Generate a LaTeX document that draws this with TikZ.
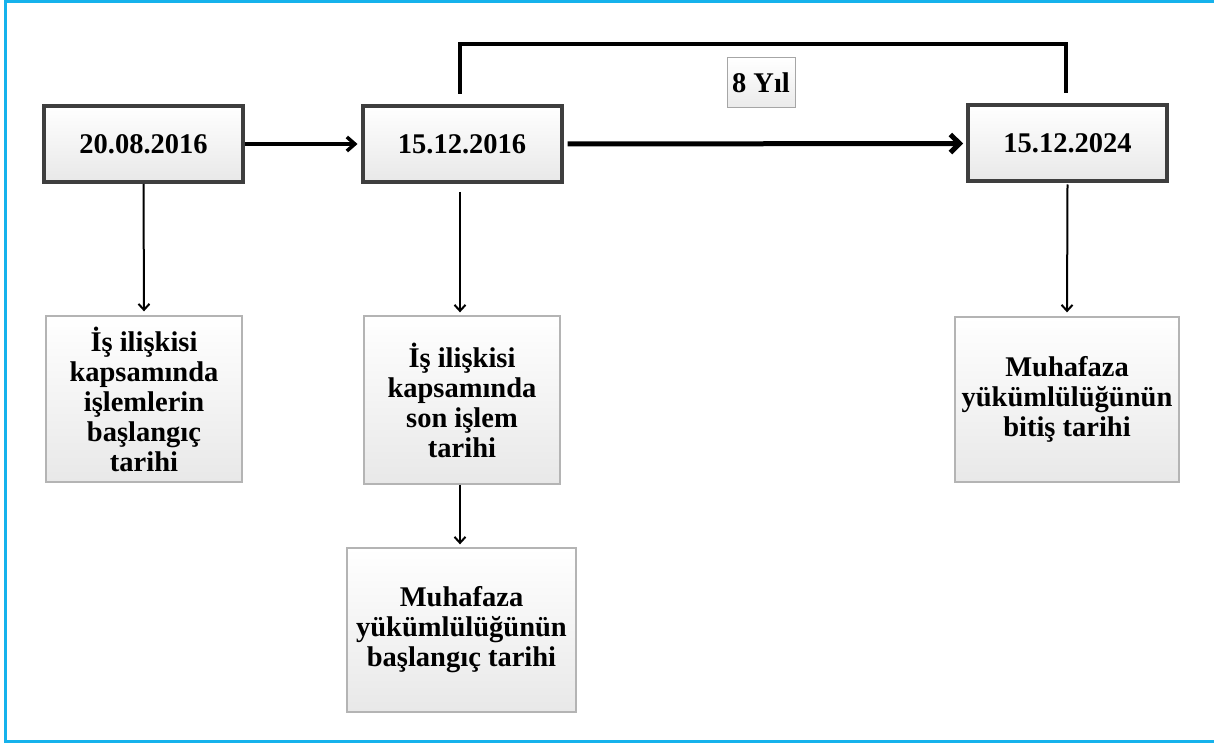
\documentclass[tikz,border=0pt]{standalone}
\usepackage{fontspec}
\setmainfont{Liberation Serif}
\usetikzlibrary{arrows.meta,calc}
\definecolor{framecyan}{RGB}{22,178,236}
\definecolor{datebord}{RGB}{62,62,62}
\definecolor{notebord}{RGB}{180,180,180}
\begin{document}
\begin{tikzpicture}[x=1pt,y=-1pt,
  txt/.style={font=\fontsize{28.5}{30}\selectfont\bfseries,align=center,text=black},
  datebox/.style={txt,draw=datebord,line width=4pt,top color=white,bottom color=black!9,
    minimum width=199pt,minimum height=76pt,inner sep=0pt},
  notebox/.style={txt,draw=notebord,line width=1.3pt,top color=white,bottom color=black!9,inner sep=0pt},
  tagbox/.style={txt,draw=black!35,line width=1pt,top color=white,bottom color=black!8,
    minimum width=68pt,minimum height=50pt,inner sep=0pt},
  thinarrow/.style={line width=2pt,-{Straight Barb[length=6pt,width=11pt]}},
  medarrow/.style={line width=3.5pt,-{Straight Barb[length=8pt,width=14pt]}},
  thickarrow/.style={line width=5pt,-{Straight Barb[length=9pt,width=18pt]}},
  bracket/.style={line width=4pt}
]
\useasboundingbox (0,0) rectangle (1214,743);

% outer frame, open on the right
\draw[framecyan,line width=3pt] (1214,1.5) -- (5.5,1.5) -- (5.5,741.5) -- (1214,741.5);

% date boxes
\node[datebox] (d1) at (143.5,144) {20.08.2016};
\node[datebox] (d2) at (462,144) {15.12.2016};
\node[datebox] (d3) at (1067.5,143.5) {15.12.2024};

% duration label
\node[tagbox] (yil) at (761,83) {8 Yıl};

% description boxes
\node[notebox,minimum width=196pt,minimum height=166pt] (n1) at (144,399)
  {İş ilişkisi\\kapsamında\\işlemlerin\\başlangıç\\tarihi};
\node[notebox,minimum width=196pt,minimum height=168pt] (n2) at (462,400)
  {İş ilişkisi\\kapsamında\\son işlem\\tarihi};
\node[notebox,minimum width=229pt,minimum height=164pt] (n3) at (461.5,630)
  {Muhafaza\\yükümlülüğünün\\başlangıç tarihi};
\node[notebox,minimum width=224pt,minimum height=165pt] (n4) at (1067,399.5)
  {Muhafaza\\yükümlülüğünün\\bitiş tarihi};

% timeline arrows
\draw[medarrow,shorten >=3pt] (d1.east) -- (d2.west);
\draw[thickarrow,shorten <=4pt,shorten >=3pt] (d2.east) -- (d3.west);

% span bracket over the retention period
\coordinate (bl) at ($(d2.north)+(-2,-10)$);
\coordinate (br) at ($(d3.north)+(-1.5,-10)$);
\draw[bracket] (bl) -- ++(0,-50) -| (br);

% vertical links to descriptions
\draw[thinarrow,shorten >=4pt] (d1.south) -- (n1.north);
\draw[thinarrow,shorten <=8pt,shorten >=3pt] ($(d2.south)+(-2,0)$) -- ($(n2.north)+(-2,0)$);
\draw[thinarrow,shorten >=3pt] ($(n2.south)+(-2,0)$) -- ($(n3.north)+(-1.5,0)$);
\draw[thinarrow,shorten <=1pt,shorten >=4pt] (d3.south) -- (n4.north);
\end{tikzpicture}
\end{document}
